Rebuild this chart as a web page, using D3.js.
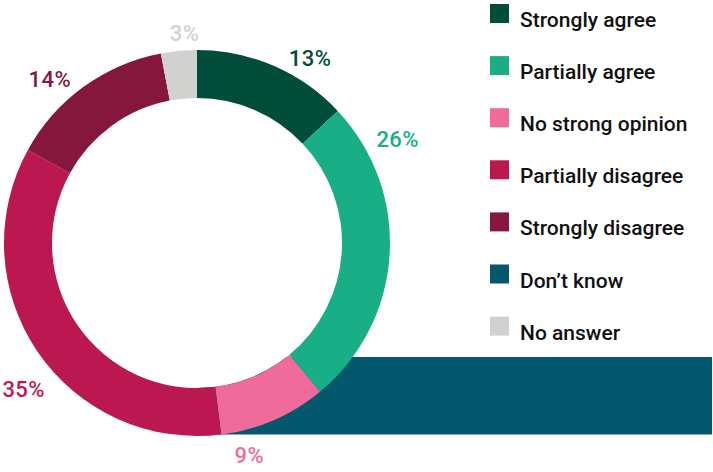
<!DOCTYPE html>
<html>
<head>
<meta charset="utf-8">
<script src="https://cdn.jsdelivr.net/npm/d3@7"></script>
<style>
  body { margin: 0; background: #fff; }
  text { font-family: Roboto, "Noto Sans", sans-serif; font-weight: 500; }
</style>
</head>
<body>
<div id="chart"></div>
<script>
var categories = ["Strongly agree", "Partially agree", "No strong opinion", "Partially disagree", "Strongly disagree", "Don\u2019t know", "No answer"];
var values = [13, 26, 9, 35, 14, 0, 3];
var colors = ["#004d3a", "#18ae86", "#ee6b9a", "#bb1852", "#84173b", "#03586e", "#d1d1cf"];

var svgWidth = 713;
var svgHeight = 472;

var cx = 197, cy = 243;
var outerR = 193, innerR = 145;

var svg = d3.select("#chart")
  .append("svg")
  .attr("width", svgWidth)
  .attr("height", svgHeight);

var data = categories.map(function(c, i) {
  return { name: c, value: values[i], color: colors[i] };
});

var color = d3.scaleOrdinal().domain(categories).range(colors);

// the empty "Don't know" slice shows up as a flat band behind the ring
var dontKnow = data.filter(d => d.value === 0);
svg.selectAll("rect.band")
  .data(dontKnow)
  .enter()
  .append("rect")
  .attr("class", "band")
  .attr("x", cx)
  .attr("y", cy + 114)
  .attr("width", svgWidth - cx - 1)
  .attr("height", outerR - 114 - 1.5)
  .attr("fill", d => color(d.name));

var pie = d3.pie()
  .sort(null)
  .value(d => d.value);

var arc = d3.arc()
  .innerRadius(innerR)
  .outerRadius(outerR);

var ring = svg.append("g")
  .attr("transform", `translate(${cx}, ${cy})`);

ring.append("circle")
  .attr("r", innerR)
  .attr("fill", "#fff");

var arcs = pie(data).filter(d => d.data.value > 0);

ring.selectAll("path")
  .data(arcs)
  .enter()
  .append("path")
  .attr("d", arc)
  .attr("fill", d => color(d.data.name));

// labels sit outside the ring, nudged off the mid angle where the original put them
var labelShift = {
  "Strongly agree": 8,
  "Partially agree": -31,
  "No strong opinion": 9.5,
  "Partially disagree": -6,
  "Strongly disagree": -6,
  "No answer": 2
};
var labelR = {
  "Strongly agree": 217,
  "Partially agree": 226,
  "No strong opinion": 218,
  "Partially disagree": 227,
  "Strongly disagree": 220,
  "No answer": 210
};

ring.selectAll("text.pct")
  .data(arcs)
  .enter()
  .append("text")
  .attr("class", "pct")
  .attr("text-anchor", "middle")
  .attr("dy", "0.36em")
  .attr("x", function(d) {
    var a = (d.startAngle + d.endAngle) / 2 + labelShift[d.data.name] * Math.PI / 180;
    return Math.sin(a) * labelR[d.data.name];
  })
  .attr("y", function(d) {
    var a = (d.startAngle + d.endAngle) / 2 + labelShift[d.data.name] * Math.PI / 180;
    return -Math.cos(a) * labelR[d.data.name];
  })
  .style("font-size", "22px")
  .style("letter-spacing", "0.4px")
  .attr("fill", d => color(d.data.name))
  .text(d => d.data.value + "%");

// legend
var legendY = d3.scalePoint()
  .domain(categories)
  .range([14, 14 + 52.1 * 6]);

var legend = svg.append("g")
  .attr("transform", "translate(490, 0)");

var rows = legend.selectAll("g")
  .data(data)
  .enter()
  .append("g")
  .attr("transform", d => `translate(0, ${legendY(d.name)})`);

rows.append("rect")
  .attr("x", 0)
  .attr("y", -10)
  .attr("width", 19)
  .attr("height", 19)
  .attr("fill", d => color(d.name));

rows.append("text")
  .attr("x", 30)
  .attr("y", 13)
  .style("font-size", "21px")
  .attr("fill", "#111")
  .text(d => d.name);
</script>
</body>
</html>
